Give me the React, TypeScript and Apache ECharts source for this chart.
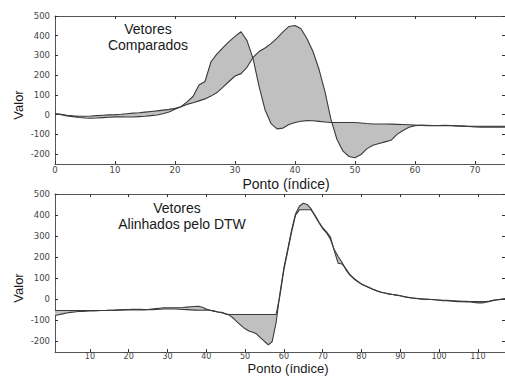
import React, { useEffect, useRef } from "react";
import * as echarts from "echarts";

// Top chart: "Vetores Comparados" (x = 0..75)
const TOP_A = [
  5, 0, -6, -10, -14, -17, -18, -17, -15, -13,
  -11, -11, -12, -12, -10, -8, -5, -2, 5, 14,
  28, 40, 65, 92, 150, 168, 268, 308, 340, 370,
  397, 420, 375, 285, 145, 25, -45, -72, -68, -50,
  -40, -33, -30, -31, -34, -37, -40, -40, -40, -40,
  -40, -42, -45, -47, -47, -47, -48, -49, -50, -51,
  -53, -55, -56, -56, -55, -54, -55, -57, -58, -59,
  -59, -59, -59, -59, -59, -59,
];
const TOP_B = [
  5, 2, -3, -6, -8, -8, -7, -5, -3, -1,
  0, 2, 5, 8, 10, 13, 16, 19, 23, 27,
  32, 40, 52, 60, 70, 80, 94, 112, 140, 168,
  196, 208, 240, 290, 320, 338, 360, 388, 420, 447,
  452, 435, 385, 320, 230, 115, -25, -126, -185, -212,
  -218, -202, -172, -155, -146, -138, -130, -100, -80, -64,
  -56, -53, -54, -55, -56, -56, -56, -57, -58, -60,
  -62, -63, -63, -63, -63, -63,
];
const TOP_X_START = 0;

// Bottom chart: "Vetores Alinhados pelo DTW" (x = 1..117)
const BOT_C = [
  -77, -73, -69, -65, -62, -60, -58, -57, -56, -55,
  -55, -54, -53, -53, -52, -52, -51, -50, -49, -48,
  -47, -47, -47, -48, -48, -46, -44, -42, -40, -40,
  -40, -40, -40, -39, -37, -35, -34, -33, -38, -46,
  -52, -56, -60, -62, -68, -76, -90, -108, -125, -140,
  -150, -156, -165, -183, -200, -216, -200, -110, 30, 150,
  238, 330, 405, 442, 456, 450, 430, 396, 365, 336,
  315, 285, 235, 203, 175, 140, 115, 98, 85, 72,
  63, 55, 47, 40, 34, 30, 26, 23, 20, 17,
  12, 9, 6, 4, 2, 1, 0, -1, -2, -4,
  -6, -7, -8, -10, -11, -11, -12, -13, -15, -17,
  -17, -15, -10, -5, -2, 0, 2,
];
const BOT_D = [
  -53, -53, -53, -53, -53, -53, -53, -53, -53, -53,
  -53, -53, -53, -53, -52, -52, -51, -50, -50, -50,
  -50, -50, -50, -50, -49, -49, -48, -47, -46, -46,
  -46, -46, -47, -48, -49, -50, -51, -52, -52, -50,
  -52, -56, -60, -64, -70, -72, -72, -72, -72, -72,
  -72, -72, -72, -72, -72, -72, -72, -72, 20, 140,
  230, 320, 400, 425, 425, 425, 425, 400, 368, 340,
  320, 295, 230, 171, 168, 145, 118, 100, 86, 73,
  64, 56, 48, 41, 35, 30, 26, 23, 20, 17,
  13, 10, 7, 5, 3, 1, 0, -1, -2, -3,
  -4, -5, -6, -7, -8, -9, -9, -10, -10, -10,
  -11, -10, -8, -5, -2, 0, 2,
];
const BOT_X_START = 1;

const TOP_X_TICKS = [0, 10, 20, 30, 40, 50, 60, 70];
const BOT_X_TICKS = [10, 20, 30, 40, 50, 60, 70, 80, 90, 100, 110];
const Y_TICKS = [-200, -100, 0, 100, 200, 300, 400, 500];

const FONT = "'Liberation Sans', Arial, sans-serif";
const TICK_FONT = "'DejaVu Sans', 'Liberation Sans', sans-serif";
const AXIS_COLOR = "#555";
const LINE_COLOR = "#3a3a3a";
const FILL_COLOR = "#c0c0c0";

function toPairs(vals: number[], start: number) {
  return vals.map((v, i) => [i + start, v]);
}

function xAxis(gridIndex: number, position: string, labels: boolean, ticks: number[], min: number, max: number, fontSize = 8.5, margin = 1) {
  return {
    type: "value",
    gridIndex,
    position,
    min,
    max,
    axisLine: { show: true, onZero: false, lineStyle: { color: AXIS_COLOR, width: 1 } },
    axisTick: { show: true, inside: true, length: 3, customValues: ticks, lineStyle: { color: "#333" } },
    axisLabel: {
      show: labels,
      customValues: ticks,
      fontSize,
      fontFamily: TICK_FONT,
      color: "#444",
      margin,
    },
    splitLine: { show: false },
  };
}

function yAxis(gridIndex: number, position: string, labels: boolean) {
  return {
    type: "value",
    gridIndex,
    position,
    min: -250,
    max: 500,
    axisLine: { show: true, onZero: false, lineStyle: { color: AXIS_COLOR, width: 1 } },
    axisTick: { show: true, inside: true, length: 3, customValues: Y_TICKS, lineStyle: { color: "#333" } },
    axisLabel: {
      show: labels,
      customValues: Y_TICKS,
      fontSize: 8.5,
      fontFamily: TICK_FONT,
      color: "#444",
      margin: 5,
    },
    splitLine: { show: false },
  };
}

function fillSeries(a: number[], b: number[], start: number, axisIdx: number) {
  return {
    type: "custom",
    coordinateSystem: "cartesian2d",
    xAxisIndex: axisIdx,
    yAxisIndex: axisIdx,
    silent: true,
    data: [[start, a[0]]],
    renderItem: (_params: any, api: any) => {
      const pts: number[][] = [];
      for (let i = 0; i < a.length; i++) pts.push(api.coord([i + start, a[i]]));
      for (let i = b.length - 1; i >= 0; i--) pts.push(api.coord([i + start, b[i]]));
      return {
        type: "polygon",
        shape: { points: pts },
        style: { fill: FILL_COLOR, stroke: null },
      };
    },
    z: 1,
  };
}

function lineSeries(vals: number[], start: number, axisIdx: number) {
  return {
    type: "line",
    xAxisIndex: axisIdx,
    yAxisIndex: axisIdx,
    data: toPairs(vals, start),
    symbol: "none",
    lineStyle: { color: LINE_COLOR, width: 1.1 },
    z: 3,
  };
}

function textEl(text: string, x: number, y: number, size = 14, rotation = 0) {
  return {
    type: "text",
    x,
    y,
    rotation,
    style: {
      text,
      x: 0,
      y: 0,
      fill: "#1a1a1a",
      font: `${size}px ${FONT}`,
      fontSize: size,
      fontFamily: FONT,
      align: "center",
      verticalAlign: "middle",
      textAlign: "center",
      textVerticalAlign: "middle",
    },
    z: 10,
  };
}

export default function App() {
  const ref = useRef<HTMLDivElement>(null);
  useEffect(() => {
    if (!ref.current) return;
    const chart = echarts.init(ref.current, undefined, { renderer: "svg" });
    chart.setOption({
      animation: false,
      backgroundColor: "#ffffff",
      grid: [
        { left: 55, top: 16, width: 451, height: 148 },
        { left: 55, top: 194, width: 451, height: 158 },
      ],
      xAxis: [
        xAxis(0, "bottom", true, TOP_X_TICKS, 0, 75),
        xAxis(0, "top", false, TOP_X_TICKS, 0, 75),
        xAxis(1, "bottom", true, BOT_X_TICKS, 1, 117, 8, 0),
        xAxis(1, "top", false, BOT_X_TICKS, 1, 117),
      ],
      yAxis: [
        yAxis(0, "left", true),
        yAxis(0, "right", false),
        yAxis(1, "left", true),
        yAxis(1, "right", false),
      ],
      series: [
        fillSeries(TOP_A, TOP_B, TOP_X_START, 0),
        lineSeries(TOP_A, TOP_X_START, 0),
        lineSeries(TOP_B, TOP_X_START, 0),
        fillSeries(BOT_C, BOT_D, BOT_X_START, 2),
        lineSeries(BOT_C, BOT_X_START, 2),
        lineSeries(BOT_D, BOT_X_START, 2),
      ],
      graphic: [
        textEl("Vetores", 148, 29),
        textEl("Comparados", 148, 45),
        textEl("Vetores", 177, 208),
        textEl("Alinhados pelo DTW", 182, 224),
        textEl("Valor", 18, 105, 13, Math.PI / 2),
        textEl("Valor", 18, 288, 13, Math.PI / 2),
        textEl("Ponto (índice)", 286, 183.5),
        textEl("Ponto (índice)", 288, 368.5, 13),
      ],
    });
    return () => chart.dispose();
  }, []);
  return (
    <div
      ref={ref}
      style={{ position: "absolute", left: 0, top: 0, width: 505, height: 376 }}
    />
  );
}
